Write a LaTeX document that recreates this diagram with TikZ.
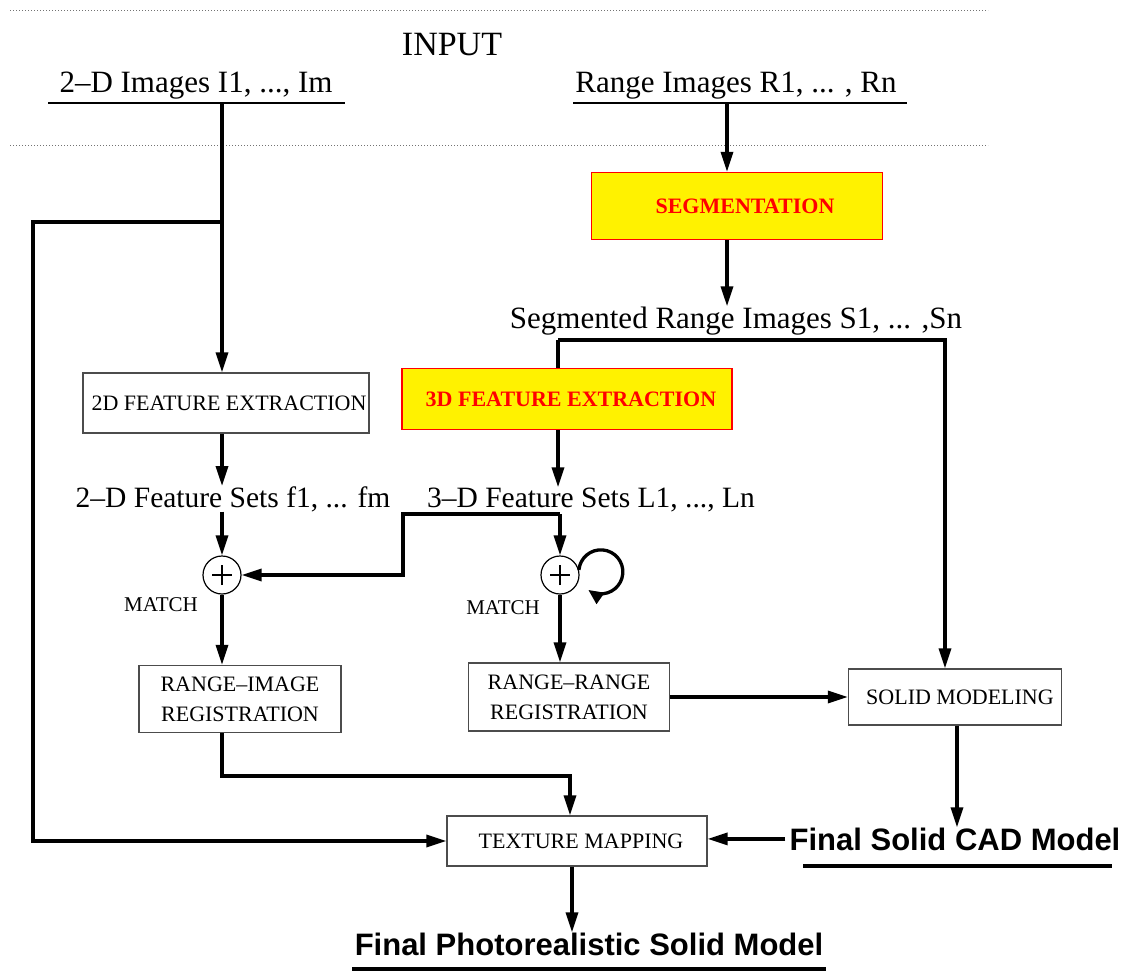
\documentclass[tikz,border=0pt]{standalone}
\usepackage{fontspec}
\setmainfont{Liberation Serif}
\newfontfamily\headsans{Liberation Sans}
\usetikzlibrary{arrows.meta}

\tikzset{
  wire/.style={line width=3.3pt, line join=miter},
  arr/.style={wire, -{Triangle[length=20pt,width=12pt]}},
  looparr/.style={wire, -{Triangle[length=15pt,width=13pt]}},
  guide/.style={draw=black!55, line width=0.8pt, dash pattern=on 0.8pt off 2.2pt},
  barline/.style={line width=2.2pt},
  heavybar/.style={line width=3.3pt},
  txt/.style={inner xsep=4pt, inner ysep=0pt, anchor=base},
  bigtxt/.style={txt, font=\fontsize{31pt}{37pt}\selectfont},
  midtxt/.style={txt, font=\fontsize{29.5pt}{35pt}\selectfont},
  smalltxt/.style={txt, font=\fontsize{21pt}{25pt}\selectfont},
  resulttxt/.style={txt, font=\headsans\bfseries\fontsize{31pt}{37pt}\selectfont},
  plainbox/.style={draw=black!70, line width=1.3pt, fill=white, inner sep=0pt,
    align=center, font=\fontsize{22pt}{30pt}\selectfont},
  hotbox/.style={plainbox, draw=red, fill=yellow, text=red,
    font=\fontsize{22pt}{30pt}\selectfont\bfseries},
  junction/.style={circle, draw, line width=1.2pt, minimum size=38pt, inner sep=0pt,
    path picture={
      \draw[line width=1.4pt] ([xshift=-10pt]path picture bounding box.center) -- ++(20pt,0);
      \draw[line width=1.4pt] ([yshift=-10pt]path picture bounding box.center) -- ++(0,20pt);
    }},
}

\begin{document}
\begin{tikzpicture}[x=1pt,y=1pt]
\useasboundingbox (0,0) rectangle (1132,-972);

% dotted guides framing the input row
\draw[guide] (10,-10) -- (988,-10);
\draw[guide] (10,-145) -- (988,-145);

% inputs
\node[txt, font=\fontsize{34pt}{40pt}\selectfont] (input) at (452,-55) {INPUT};
\node[bigtxt] (img2d) at (196,-92) {2–D Images I1, ..., Im};
\node[bigtxt] (imgR) at (736,-92) {Range Images R1, ... , Rn};
\draw[barline] (48,-103) -- (345,-103);
\draw[barline] (573,-103) -- (907,-103);

% range branch
\node[hotbox, minimum width=291pt, minimum height=67pt] (seg) at (737,-206) {\hspace*{16pt}SEGMENTATION};
\node[bigtxt] (segimg) at (736,-328) {Segmented Range Images S1, ... ,Sn};
\node[hotbox, minimum width=330pt, minimum height=61pt] (ext3) at (567,-399) {\hspace*{8pt}3D FEATURE EXTRACTION};
\node[midtxt] (fs3) at (591,-507) {3–D Feature Sets L1, ..., Ln};

% image branch
\node[plainbox, minimum width=286pt, minimum height=60pt] (ext2) at (226,-403) {\hspace*{6pt}2D FEATURE EXTRACTION};
\node[midtxt] (fs2) at (233,-507) {2–D Feature Sets f1, ... fm};

% matching
\node[junction] (c1) at (222,-575) {};
\node[junction] (c2) at (560,-575) {};
\node[smalltxt] (m1) at (161,-611) {MATCH};
\node[smalltxt] (m2) at (503,-614) {MATCH};

% registration and modelling
\node[plainbox, minimum width=202pt, minimum height=67pt] (rimg) at (240,-699) {RANGE–IMAGE\\REGISTRATION};
\node[plainbox, minimum width=201pt, minimum height=68pt] (rr) at (569,-697) {RANGE–RANGE\\REGISTRATION};
\node[plainbox, minimum width=213pt, minimum height=56pt] (solid) at (955,-697) {\hspace*{10pt}SOLID MODELING};
\node[plainbox, minimum width=260pt, minimum height=50pt] (tex) at (577,-841) {\hspace*{8pt}TEXTURE MAPPING};

% results
\node[resulttxt] (cad) at (955,-850) {Final Solid CAD Model};
\node[resulttxt] (photo) at (589,-955) {Final Photorealistic Solid Model};
\draw[heavybar] (803,-866) -- (1112,-866);
\draw[heavybar] (352,-969) -- (826,-969);

% junction points of the connectors
\coordinate (i2foot) at (222,-103);
\coordinate (split) at (222,-222);
\coordinate (lft) at (33,-222);
\coordinate (rfoot) at (727,-103);
\coordinate (sj) at (558,-340);
\coordinate (sjr) at (945,-340);
\coordinate (fj) at (560,-514);
\coordinate (fjl) at (403,-514);
\coordinate (tj) at (570,-776);

% connectors
\draw[arr] (i2foot) -- (i2foot |- ext2.north);
\draw[arr] (split) -- (lft) |- (tex.west);
\draw[arr] (rfoot) -- (rfoot |- seg.north);
\draw[arr] (rfoot |- seg.south) -- (rfoot |- segimg.north);
\draw[wire] (sj) -- (sj |- ext3.north);
\draw[arr] (sj) -- (sjr) -- (sjr |- solid.north);
\draw[arr] (sj |- ext3.south) -- (sj |- fs3.north);
\draw[arr] (i2foot |- ext2.south) -- (i2foot |- fs2.north);
\draw[arr] (i2foot |- fs2.south) -- (c1.north);
\draw[arr] (fj) -- (c2.north);
\draw[arr] (fj) -- (fjl) |- (c1.east);
\draw[looparr] (c2.15) arc[start angle=175, end angle=-125, radius=22];
\draw[arr] (c1.south) -- (c1.south |- rimg.north);
\draw[arr] (c2.south) -- (c2.south |- rr.north);
\draw[arr] (rr.east) -- (rr.east -| solid.west);
\draw[arr] ([xshift=2pt]solid.south) -- ([xshift=2pt]solid.south |- cad.north);
\draw[arr] (c1 |- rimg.south) |- (tj) -- (tj |- tex.north);
\draw[arr] (cad.west) -- (cad.west -| tex.east);
\draw[arr] ([xshift=-5pt]tex.south) -- ([xshift=-5pt]tex.south |- photo.north);
\end{tikzpicture}
\end{document}
